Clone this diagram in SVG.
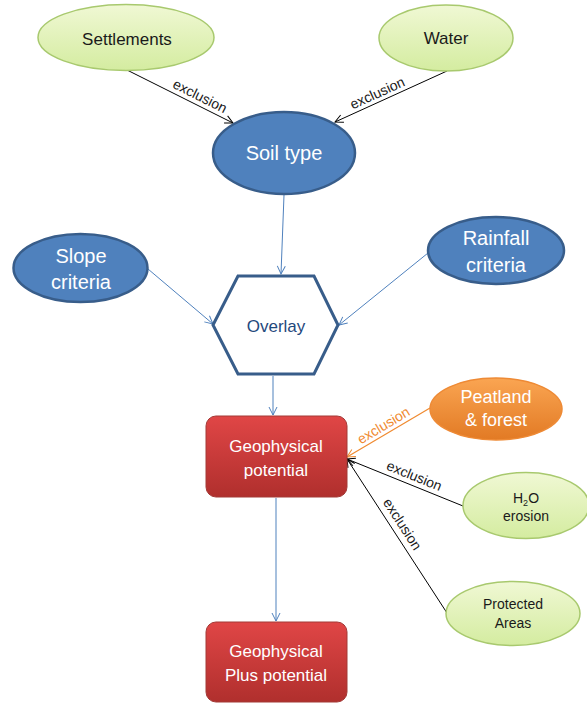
<svg xmlns="http://www.w3.org/2000/svg" width="587" height="704" viewBox="0 0 587 704">
<defs>
<linearGradient id="gGreen" x1="0" y1="0" x2="0" y2="1"><stop offset="0" stop-color="#F0F8D4"/><stop offset="1" stop-color="#D4ECA0"/></linearGradient>
<linearGradient id="gRed" x1="0" y1="0" x2="0" y2="1"><stop offset="0" stop-color="#E04646"/><stop offset="1" stop-color="#B02F2D"/></linearGradient>
<linearGradient id="gOrange" x1="0" y1="0" x2="0" y2="1"><stop offset="0" stop-color="#FAA552"/><stop offset="1" stop-color="#E27A24"/></linearGradient>
<marker id="aBlue" markerUnits="userSpaceOnUse" markerWidth="12" markerHeight="12" refX="9" refY="5" orient="auto"><path d="M1,1 L9,5 L1,9" fill="none" stroke="#4F81BD" stroke-width="1"/></marker>
<marker id="aBlack" markerUnits="userSpaceOnUse" markerWidth="12" markerHeight="12" refX="9" refY="5" orient="auto"><path d="M1,1 L9,5 L1,9" fill="none" stroke="#000" stroke-width="1"/></marker>
<marker id="aOrange" markerUnits="userSpaceOnUse" markerWidth="12" markerHeight="12" refX="9" refY="5" orient="auto"><path d="M1,1 L9,5 L1,9" fill="none" stroke="#F08A30" stroke-width="1"/></marker>
</defs>
<style>
text{font-family:"Liberation Sans",Arial,sans-serif;text-anchor:middle}
.green{fill:url(#gGreen);stroke:#A8C96E;stroke-width:1.5}
.blue{fill:#4F81BD;stroke:#385D8A;stroke-width:2.5}
.red{fill:url(#gRed);stroke:#A33A37;stroke-width:1}
.orange{fill:url(#gOrange);stroke:#EE8A35;stroke-width:1.5}
.hex{fill:#fff;stroke:#385D8A;stroke-width:3}
.dk{fill:#1a1a1a}
.wt{fill:#fff}
.lbl{font-size:14px;fill:#1a1a1a}
.lblo{font-size:14px;fill:#F08A30}
.cb{stroke:#4F81BD;stroke-width:1;fill:none;marker-end:url(#aBlue)}
.ck{stroke:#000;stroke-width:1;fill:none;marker-end:url(#aBlack)}
.co{stroke:#F08A30;stroke-width:1.2;fill:none;marker-end:url(#aOrange)}
</style>
<g id="connectors">
<line class="ck" x1="127" y1="70" x2="233" y2="123"/>
<line class="ck" x1="447" y1="71" x2="335" y2="122"/>
<line class="cb" x1="284" y1="195" x2="281" y2="274"/>
<line class="cb" x1="148" y1="269" x2="213" y2="324"/>
<line class="cb" x1="428" y1="253" x2="339" y2="325"/>
<line class="cb" x1="273" y1="376" x2="273" y2="415"/>
<line class="co" x1="430" y1="408" x2="347" y2="457"/>
<line class="ck" x1="463" y1="506" x2="347" y2="459"/>
<line class="ck" x1="447" y1="613" x2="347" y2="459"/>
<line class="cb" x1="276" y1="498" x2="276" y2="621"/>
<text class="lbl" transform="translate(196,104) rotate(26.6)" y="-4">exclusion</text>
<text class="lbl" transform="translate(381,101) rotate(-24.5)" y="-4">exclusion</text>
<text class="lblo" transform="translate(388,433) rotate(-31)" y="-4">exclusion</text>
<text class="lbl" transform="translate(411,484) rotate(22)" y="-4">exclusion</text>
<text class="lbl" transform="translate(395,529) rotate(57)" y="-4">exclusion</text>
</g>
<g id="settlements"><ellipse class="green" cx="126" cy="37.5" rx="88" ry="33"/><text class="dk" x="127" y="45" font-size="17">Settlements</text></g>
<g id="water"><ellipse class="green" cx="446" cy="38" rx="67" ry="33"/><text class="dk" x="446" y="44" font-size="17">Water</text></g>
<g id="soil"><ellipse class="blue" cx="284" cy="153" rx="71" ry="41"/><text class="wt" x="284" y="160" font-size="20">Soil type</text></g>
<g id="slope"><ellipse class="blue" cx="80.5" cy="268" rx="67" ry="34"/><text class="wt" x="81" y="263" font-size="20">Slope</text><text class="wt" x="81" y="289" font-size="20">criteria</text></g>
<g id="rainfall"><ellipse class="blue" cx="496" cy="250.5" rx="68" ry="33.5"/><text class="wt" x="496" y="245" font-size="20">Rainfall</text><text class="wt" x="496" y="272" font-size="20">criteria</text></g>
<g id="overlay"><polygon class="hex" points="213,325 238,276 314,276 338,325 314,374 238,374"/><text x="276" y="332" font-size="17" fill="#1F497D">Overlay</text></g>
<g id="geo"><rect class="red" x="206" y="416" width="141" height="81" rx="10"/><text class="wt" x="276" y="452" font-size="17">Geophysical</text><text class="wt" x="276" y="476" font-size="17">potential</text></g>
<g id="peat"><ellipse class="orange" cx="496" cy="409" rx="66" ry="31"/><text class="wt" x="496" y="403" font-size="18">Peatland</text><text class="wt" x="496" y="426" font-size="18">&amp; forest</text></g>
<g id="h2o"><ellipse class="green" cx="526" cy="505.5" rx="63" ry="33"/><text class="dk" x="526" y="503" font-size="14">H<tspan font-size="9" dy="3">2</tspan><tspan dy="-3">O</tspan></text><text class="dk" x="526" y="521" font-size="14">erosion</text></g>
<g id="protected"><ellipse class="green" cx="513" cy="613.5" rx="67" ry="32"/><text class="dk" x="513" y="609" font-size="14">Protected</text><text class="dk" x="513" y="628" font-size="14">Areas</text></g>
<g id="geoplus"><rect class="red" x="206" y="622" width="141" height="80" rx="10"/><text class="wt" x="276" y="657" font-size="17">Geophysical</text><text class="wt" x="276" y="681" font-size="17">Plus potential</text></g>
</svg>
